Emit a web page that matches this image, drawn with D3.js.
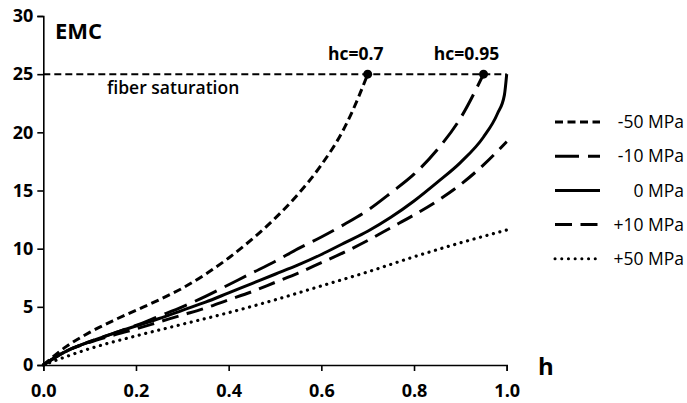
<!DOCTYPE html>
<html><head><meta charset="utf-8">
<script src="https://cdn.jsdelivr.net/npm/d3@7"></script>
<style>body{margin:0;background:#fff}svg{display:block}text{font-family:"Open Sans",sans-serif;fill:#000}</style>
</head><body><svg id="c" width="687" height="403"></svg>
<script>
// data
const xTicks = [0, 0.2, 0.4, 0.6, 0.8, 1.0];
const yTicks = [0, 5, 10, 15, 20, 25, 30];
const seriesNames = ["-50 MPa", "-10 MPa", "0 MPa", "+10 MPa", "+50 MPa"];
const hM50 = [0, 0.05, 0.1, 0.15, 0.2, 0.25, 0.3, 0.35, 0.4, 0.45, 0.5, 0.55, 0.6, 0.65, 0.68, 0.7];
const vM50 = [0, 1.6, 2.8, 3.8, 4.7, 5.6, 6.6, 7.8, 9.2, 10.8, 12.6, 14.7, 17.2, 20.4, 23.0, 25.0];
const hM10 = [0, 0.05, 0.1, 0.15, 0.2, 0.25, 0.3, 0.35, 0.4, 0.45, 0.5, 0.55, 0.6, 0.65, 0.7, 0.75, 0.8, 0.85, 0.9, 0.95];
const vM10 = [0, 1.2, 2.0, 2.7, 3.4, 4.2, 5.0, 5.9, 6.9, 7.9, 8.9, 10.0, 11.0, 12.1, 13.3, 14.8, 16.4, 18.5, 21.2, 25.0];
const h0 = [0, 0.05, 0.1, 0.15, 0.2, 0.25, 0.3, 0.35, 0.4, 0.45, 0.5, 0.55, 0.6, 0.65, 0.7, 0.75, 0.8, 0.85, 0.9, 0.95, 0.98, 0.995, 1.0];
const v0 = [0, 1.2, 2.0, 2.7, 3.35, 4.0, 4.7, 5.4, 6.2, 7.0, 7.8, 8.6, 9.5, 10.5, 11.5, 12.7, 14.1, 15.7, 17.4, 19.6, 21.6, 23.2, 25.0];
const hP10 = [0, 0.05, 0.1, 0.15, 0.2, 0.25, 0.3, 0.35, 0.4, 0.45, 0.5, 0.55, 0.6, 0.65, 0.7, 0.75, 0.8, 0.85, 0.9, 0.95, 1.0];
const vP10 = [0, 1.2, 1.95, 2.55, 3.1, 3.7, 4.3, 4.9, 5.6, 6.3, 7.1, 7.9, 8.8, 9.7, 10.7, 11.8, 12.9, 14.1, 15.5, 17.2, 19.2];
const hP50 = [0, 0.1, 0.2, 0.3, 0.4, 0.5, 0.6, 0.7, 0.8, 0.9, 1.0];
const vP50 = [0, 1.4, 2.5, 3.5, 4.5, 5.6, 6.8, 8.0, 9.3, 10.5, 11.6];
const fiberSat = 25;
const hcPoints = [0.7, 0.95];
const hcLabels = ["hc=0.7", "hc=0.95"];

const dashes = ["8,4.5", "24,9", null, "17,8.5", "0.1,6.6"];
const series = [[hM50, vM50], [hM10, vM10], [h0, v0], [hP10, vP10], [hP50, vP50]];

const svg = d3.select("#c");
const x = d3.scaleLinear().domain([0, 1]).range([43.3, 506.7]);
const y = d3.scaleLinear().domain([0, 30]).range([365, 16]);

const gx = svg.append("g").attr("transform", "translate(0,365)")
  .call(d3.axisBottom(x).tickValues(xTicks).tickFormat(d3.format(".1f")).tickSizeOuter(0).tickSize(6).tickPadding(13));
const gy = svg.append("g").attr("transform", "translate(43.3,0)")
  .call(d3.axisLeft(y).tickValues(yTicks).tickSizeOuter(0).tickSize(6).tickPadding(4));
[gx, gy].forEach(g => {
  g.select(".domain").attr("stroke", "#000").attr("stroke-width", 1.6);
  g.selectAll(".tick line").attr("stroke", "#000").attr("stroke-width", 1.6);
  g.selectAll(".tick text").style("font-family", "'Open Sans',sans-serif").style("font-size", "18px").style("font-weight", "bold").attr("fill", "#000");
});

// fiber saturation line
svg.append("line").attr("x1", x(0)).attr("x2", x(1)).attr("y1", y(fiberSat)).attr("y2", y(fiberSat))
  .attr("stroke", "#000").attr("stroke-width", 2).attr("stroke-dasharray", "7,4");

const line = d3.line().x(d => x(d[0])).y(d => y(d[1])).curve(d3.curveMonotoneX);
series.forEach((s, i) => {
  const pts = s[0].map((h, j) => [h, s[1][j]]);
  svg.append("path").attr("d", line(pts)).attr("fill", "none").attr("stroke", "#000")
    .attr("stroke-width", i === 4 ? 3.2 : 3)
    .attr("stroke-linecap", i === 4 ? "round" : "butt")
    .attr("stroke-dasharray", dashes[i]);
});

const hcShift = [-12, -17];
hcPoints.forEach((h, i) => {
  svg.append("circle").attr("cx", x(h)).attr("cy", y(fiberSat)).attr("r", 4.5).attr("fill", "#000");
  svg.append("text").attr("x", x(h) + hcShift[i]).attr("y", 60).attr("text-anchor", "middle")
    .style("font-size", "17.5px").style("font-weight", "bold").text(hcLabels[i]);
});

svg.append("text").attr("x", 55).attr("y", 39).style("font-size", "22px").style("font-weight", "bold").text("EMC");
svg.append("text").attr("x", 107).attr("y", 94).style("font-size", "17.5px").style("font-weight", "600").text("fiber saturation");
svg.append("text").attr("x", 538).attr("y", 375).style("font-size", "24px").style("font-weight", "bold").text("h");

// legend
seriesNames.forEach((n, i) => {
  const yy = 122 + i * 34.2;
  svg.append("line").attr("x1", 555).attr("x2", 600).attr("y1", yy).attr("y2", yy)
    .attr("stroke", "#000").attr("stroke-width", 3)
    .attr("stroke-linecap", i === 4 ? "round" : "butt")
    .attr("stroke-dasharray", dashes[i]);
  svg.append("text").attr("x", 684).attr("y", yy).attr("dy", "0.35em").attr("text-anchor", "end")
    .style("font-size", "17.5px").text(n);
});
</script></body></html>
